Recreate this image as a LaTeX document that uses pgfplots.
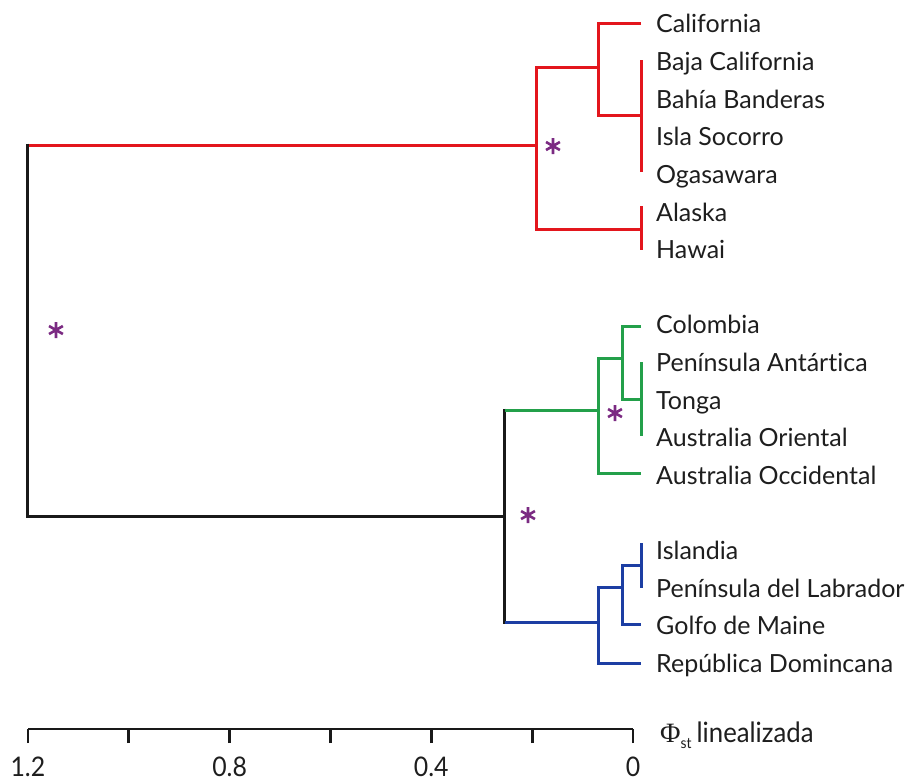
\documentclass[border=0pt]{standalone}
\usepackage{fontspec}
\setmainfont{Lato}[Ligatures={NoCommon}]
\newfontfamily\condfont{Lato}[FakeStretch=0.92, Ligatures={NoCommon}]
\newfontfamily\serifphi{Liberation Serif}
\usepackage{pgfplots}
\pgfplotsset{compat=1.18}
\definecolor{tred}{HTML}{E3161D}
\definecolor{tgreen}{HTML}{23A04A}
\definecolor{tblue}{HTML}{1C3EA3}
\definecolor{tpurple}{HTML}{7B2A82}
\definecolor{ttext}{HTML}{1E1E1E}
\begin{document}
\begin{tikzpicture}
\begin{axis}[
  scale only axis, width=605pt, height=729pt,
  xmin=0, xmax=1.2, ymin=-729, ymax=0,
  x dir=reverse,
  axis x line=bottom, axis y line=none,
  x axis line style={-, line width=2.8pt, black!90},
  clip=false,
  xtick={0,0.2,0.4,0.6,0.8,1.0,1.2},
  xticklabels={0,,0.4,,0.8,,1.2},
  tick align=outside, major tick length=14pt,
  every tick/.style={black!90, line width=2.8pt},
  xticklabel style={font=\condfont\fontsize{27}{27}\selectfont, text=ttext, yshift=-10pt},
  ytick=\empty,
]
% red clade
\addplot[tred, line width=3pt, line cap=butt] coordinates {(-0.0159,-24) (0.0694,-24) (0.0694,-115) (-0.0159,-115)};
\addplot[tred, line width=3pt, line cap=butt] coordinates {(-0.0159,-60) (-0.0159,-172)};
\addplot[tred, line width=3pt, line cap=butt] coordinates {(0.0694,-67) (0.1904,-67) (0.1904,-229) (-0.0159,-229)};
\addplot[tred, line width=3pt, line cap=butt] coordinates {(-0.0159,-206) (-0.0159,-250)};
\addplot[tred, line width=3pt, line cap=butt] coordinates {(0.1904,-145) (1.2,-145)};
% root (black)
\addplot[black!90, line width=3pt, line cap=butt] coordinates {(1.2,-143.5) (1.2,-516) (0.2539,-516)};
\addplot[black!90, line width=3pt, line cap=butt] coordinates {(0.2539,-408.5) (0.2539,-623.5)};
% green clade
\addplot[tgreen, line width=3pt, line cap=butt] coordinates {(-0.0159,-326) (0.0218,-326) (0.0218,-399) (-0.0159,-399)};
\addplot[tgreen, line width=3pt, line cap=butt] coordinates {(-0.0159,-362) (-0.0159,-436)};
\addplot[tgreen, line width=3pt, line cap=butt] coordinates {(0.0218,-358) (0.0694,-358) (0.0694,-473) (-0.0159,-473)};
\addplot[tgreen, line width=3pt, line cap=butt] coordinates {(0.0694,-410) (0.2539,-410)};
% blue clade
\addplot[tblue, line width=3pt, line cap=butt] coordinates {(-0.0159,-543) (-0.0159,-588)};
\addplot[tblue, line width=3pt, line cap=butt] coordinates {(-0.0159,-565) (0.0218,-565) (0.0218,-624) (-0.0159,-624)};
\addplot[tblue, line width=3pt, line cap=butt] coordinates {(0.0218,-587) (0.0694,-587) (0.0694,-663) (-0.0159,-663)};
\addplot[tblue, line width=3pt, line cap=butt] coordinates {(0.0694,-622) (0.2539,-622)};
% asterisks (support)
\addplot[only marks, mark=asterisk, mark size=8pt, tpurple, mark options={line width=2.6pt}] coordinates {
  (0.1587,-146) (0.0357,-413) (0.2082,-515) (1.1444,-330)};
% leaf labels
\begin{scope}[every node/.style={anchor=base west, inner sep=0pt, text=ttext, font=\fontsize{25}{25}\selectfont}]
\node at (axis cs:-0.0456,-33) {California};
\node at (axis cs:-0.0456,-70.6) {Baja California};
\node at (axis cs:-0.0456,-108.2) {Bahía Banderas};
\node at (axis cs:-0.0456,-145.8) {Isla Socorro};
\node at (axis cs:-0.0456,-183.4) {Ogasawara};
\node at (axis cs:-0.0456,-221) {Alaska};
\node at (axis cs:-0.0456,-258.6) {Hawai};
\node at (axis cs:-0.0456,-333.8) {Colombia};
\node at (axis cs:-0.0456,-371.4) {Península Antártica};
\node at (axis cs:-0.0456,-409) {Tonga};
\node at (axis cs:-0.0456,-446.6) {Australia Oriental};
\node at (axis cs:-0.0456,-484.2) {Australia Occidental};
\node at (axis cs:-0.0456,-559.4) {Islandia};
\node at (axis cs:-0.0456,-597) {Península del Labrador};
\node at (axis cs:-0.0456,-634.6) {Golfo de Maine};
\node at (axis cs:-0.0456,-672.2) {República Domincana};
\end{scope}
% axis title
\node[anchor=base west, inner sep=0pt, text=ttext] at (axis cs:-0.0536,-742)
  {{\serifphi\fontsize{28}{28}\selectfont Φ}\raisebox{-6pt}{\condfont\fontsize{15}{15}\selectfont st}\hspace{5pt}{\condfont\fontsize{28}{28}\selectfont linealizada}};
\coordinate (bbtl) at (axis cs:1.2554,0);
\coordinate (bbbr) at (axis cs:-0.5474,-780);
\end{axis}
\pgfresetboundingbox
\path (bbtl) rectangle (bbbr);
\end{tikzpicture}
\end{document}
